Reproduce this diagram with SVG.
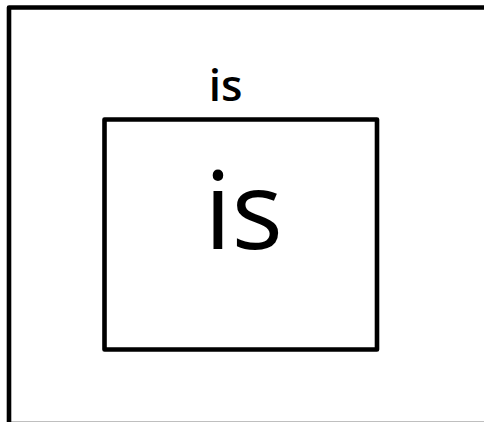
<svg xmlns="http://www.w3.org/2000/svg" width="484" height="422" viewBox="0 0 484 422">
<style>
.box{fill:none;stroke:#000;stroke-width:4.6;stroke-linejoin:round}
.lbl{font-family:"Open Sans","Noto Sans",sans-serif;fill:#000;text-anchor:middle}
</style>
<rect width="484" height="422" fill="#fff"/>
<g id="outer">
<rect class="box" x="9" y="7.5" width="490" height="416.5"/>
<text class="lbl" x="225.5" y="100.5" font-size="44" font-weight="600">is</text>
</g>
<g id="inner">
<rect class="box" x="104.5" y="119.5" width="272.5" height="230"/>
<text class="lbl" x="243.5" y="249" font-size="108">is</text>
</g>
<g id="connectors"/>
</svg>
